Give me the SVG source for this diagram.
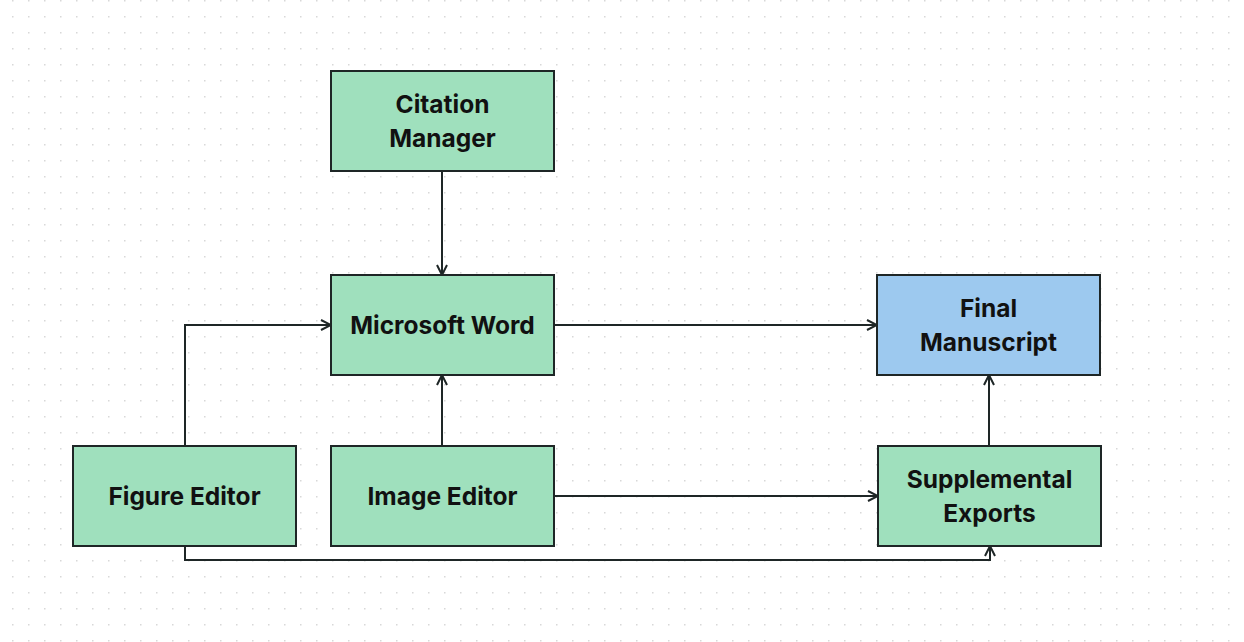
<svg xmlns="http://www.w3.org/2000/svg" width="1244" height="642" viewBox="0 0 1244 642">
<defs>
<pattern id="dots" x="12" y="0" width="16" height="16" patternUnits="userSpaceOnUse">
<rect x="0" y="0" width="1.5" height="1.5" fill="#d8d8d8"/>
</pattern>
<marker id="arr" viewBox="0 0 12 12" refX="11" refY="6" markerWidth="12" markerHeight="12" markerUnits="userSpaceOnUse" orient="auto">
<path d="M1,1 L11,6 L1,11" fill="none" stroke="#1e2626" stroke-width="2"/>
</marker>
<style>
.n{fill:#9fe0bd;stroke:#1e2626;stroke-width:2}
.b{fill:#9dc9ef;stroke:#1e2626;stroke-width:2}
.t{font-family:Inter,"Noto Sans","Liberation Sans",sans-serif;font-weight:700;font-size:24.5px;fill:#111;text-anchor:middle}
.c{fill:none;stroke:#1e2626;stroke-width:2;marker-end:url(#arr)}
</style>
</defs>
<rect width="1244" height="642" fill="#ffffff"/>
<rect width="1244" height="642" fill="url(#dots)"/>
<g id="connectors">
<path class="c" d="M442,171 L442,275"/>
<path class="c" d="M185,446 L185,325 L331,325"/>
<path class="c" d="M554,325 L877,325"/>
<path class="c" d="M442,446 L442,375"/>
<path class="c" d="M554,496 L878,496"/>
<path class="c" d="M989,446 L989,375"/>
<path class="c" d="M185,546 L185,560 L990,560 L990,546"/>
</g>
<g id="citation-manager">
<rect class="n" x="331" y="71" width="223" height="100"/>
<text class="t" x="442.5" y="113">Citation</text>
<text class="t" x="442.5" y="147">Manager</text>
</g>
<g id="microsoft-word">
<rect class="n" x="331" y="275" width="223" height="100"/>
<text class="t" x="442.5" y="334">Microsoft Word</text>
</g>
<g id="final-manuscript">
<rect class="b" x="877" y="275" width="223" height="100"/>
<text class="t" x="988.5" y="317">Final</text>
<text class="t" x="988.5" y="351">Manuscript</text>
</g>
<g id="figure-editor">
<rect class="n" x="73" y="446" width="223" height="100"/>
<text class="t" x="184.5" y="505">Figure Editor</text>
</g>
<g id="image-editor">
<rect class="n" x="331" y="446" width="223" height="100"/>
<text class="t" x="442.5" y="505">Image Editor</text>
</g>
<g id="supplemental-exports">
<rect class="n" x="878" y="446" width="223" height="100"/>
<text class="t" x="989.5" y="488">Supplemental</text>
<text class="t" x="989.5" y="522">Exports</text>
</g>
</svg>
